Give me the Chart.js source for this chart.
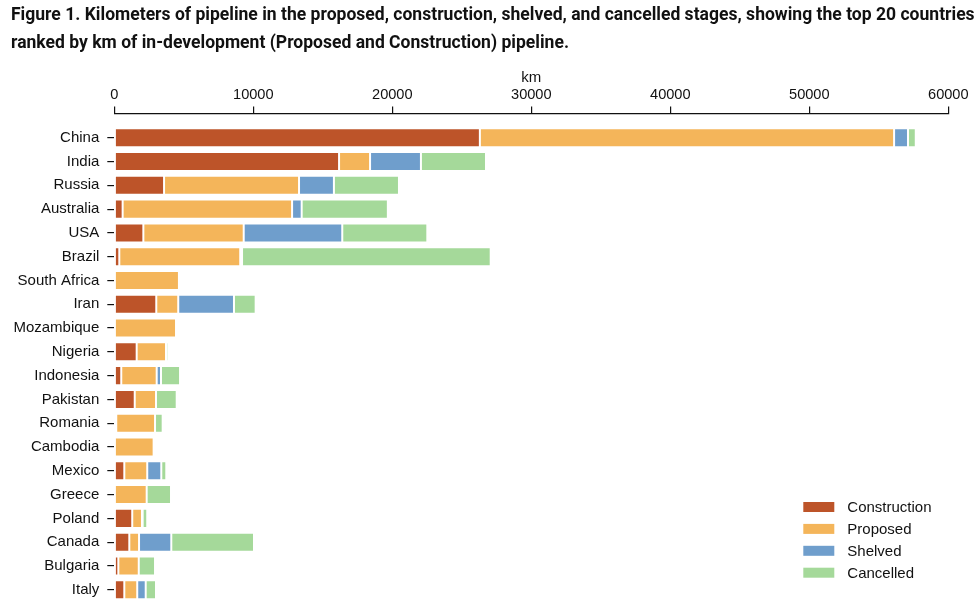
<!DOCTYPE html>
<html>
<head>
<meta charset="utf-8">
<script src="https://cdn.jsdelivr.net/npm/chart.js@4"></script>
<style>
  html, body { margin: 0; padding: 0; background: #fff; }
  #wrap { position: relative; width: 980px; height: 604px; overflow: hidden; }
  #chart-box { position: absolute; left: 0; top: 0; width: 980px; height: 604px; }
  #title {
    position: absolute; left: 11px; top: 0;
    font-family: Roboto, "Noto Sans", sans-serif; font-weight: 700;
    font-size: 19px; line-height: 27.7px; color: #111;
    white-space: nowrap; transform-origin: 0 0; transform: scaleX(0.923);
  }
</style>
</head>
<body>
<div id="wrap">
  <div id="chart-box"><canvas id="pipeline-chart"></canvas></div>
  <div id="title">
    <span>Figure 1. Kilometers of pipeline in the proposed, construction, shelved, and cancelled stages, showing the top 20 countries</span><br>
    <span>ranked by km of in-development (Proposed and Construction) pipeline.</span>
  </div>
</div>
<script>
// Countries, ranked by km in development (proposed + construction)
const countries = ['China', 'India', 'Russia', 'Australia', 'USA', 'Brazil', 'South Africa', 'Iran',
    'Mozambique', 'Nigeria', 'Indonesia', 'Pakistan', 'Romania', 'Cambodia', 'Mexico', 'Greece',
    'Poland', 'Canada', 'Bulgaria', 'Italy'];

// km per stage
const construction = [26300, 16170, 3580, 600, 2090, 360, 0, 3020, 0, 1610, 500, 1470, 140, 0, 720, 0, 1290, 1080, 290, 720];
const proposed     = [29800, 2230, 9710, 12190, 7220, 8700, 4650, 1580, 4440, 2110, 2550, 1530, 2790, 2830, 1650, 2330, 700, 700, 1470, 930];
const shelved      = [1000, 3660, 2510, 690, 7090, 130, 0, 4010, 0, 0, 310, 0, 0, 0, 1010, 0, 50, 2320, 0, 610];
const cancelled    = [560, 4680, 4680, 6200, 6120, 17890, 0, 1560, 0, 160, 1370, 1490, 550, 0, 360, 1750, 330, 5950, 1170, 740];

const xTicks = [0, 10000, 20000, 30000, 40000, 50000, 60000];

const toPoints = (arr) => arr.map((v, i) => ({ x: v, y: i }));

// legend in the lower right corner of the plot
const cornerLegend = {
    id: 'cornerLegend',
    afterDraw(chart) {
        const { ctx, chartArea } = chart;
        const x0 = chartArea.right - 145;
        let y = 507;
        ctx.save();
        ctx.font = '15px "Liberation Sans", Arial, Helvetica, sans-serif';
        ctx.textBaseline = 'middle';
        chart.data.datasets.forEach(ds => {
            ctx.fillStyle = ds.backgroundColor;
            ctx.fillRect(x0, y - 5, 31, 10);
            ctx.fillStyle = '#111';
            ctx.fillText(ds.label, x0 + 44, y + 1);
            y += 21.9;
        });
        ctx.restore();
    }
};

const tickFont = { family: '"Liberation Sans", Arial, Helvetica, sans-serif', size: 15 };

new Chart(document.getElementById('pipeline-chart'), {
    type: 'bar',
    data: {
        datasets: [
            { label: 'Construction', data: toPoints(construction), backgroundColor: '#BD5429' },
            { label: 'Proposed', data: toPoints(proposed), backgroundColor: '#F4B55A' },
            { label: 'Shelved', data: toPoints(shelved), backgroundColor: '#6F9ECC' },
            { label: 'Cancelled', data: toPoints(cancelled), backgroundColor: '#A5D99A' }
        ]
    },
    plugins: [cornerLegend],
    options: {
        indexAxis: 'y',
        responsive: true,
        maintainAspectRatio: false,
        animation: false,
        layout: { padding: { left: 0, right: 31.7, top: 0, bottom: 0 } },
        datasets: {
            bar: {
                barPercentage: 0.8,
                categoryPercentage: 1,
                borderWidth: 1,
                borderColor: 'rgba(255,255,255,0.55)',
                borderSkipped: false
            }
        },
        scales: {
            x: {
                type: 'linear',
                position: 'top',
                stacked: true,
                min: 0,
                max: 60000,
                afterBuildTicks: (scale) => { scale.ticks = xTicks.map(v => ({ value: v })); },
                afterFit: (scale) => { scale.height = 113.5; },
                ticks: { color: '#111', font: { ...tickFont, size: 14.6 }, padding: 3, maxRotation: 0, callback: (v) => String(v) },
                grid: { drawOnChartArea: false, color: '#111', tickLength: 7, lineWidth: 1.2 },
                border: { display: true, color: '#111', width: 1.2 },
                title: { display: true, text: 'km', color: '#111', font: { ...tickFont, size: 15 }, padding: { top: 69, bottom: 0 } }
            },
            y: {
                type: 'linear',
                reverse: true,
                stacked: true,
                offset: false,
                min: -1.02,
                max: 19.6,
                afterBuildTicks: (scale) => { scale.ticks = countries.map((c, i) => ({ value: i })); },
                afterFit: (scale) => {
                    scale.width = 114.3;
                    scale.paddingTop = 0;
                    scale.paddingBottom = 0;
                },
                ticks: { color: '#111', font: tickFont, padding: 8, autoSkip: false, callback: (v) => countries[v] },
                grid: { drawOnChartArea: false, offset: false, color: '#111', tickLength: 7, lineWidth: 1.2 },
                border: { display: false }
            }
        },
        plugins: {
            legend: { display: false },
            tooltip: { enabled: false }
        }
    }
});
</script>
</body>
</html>
